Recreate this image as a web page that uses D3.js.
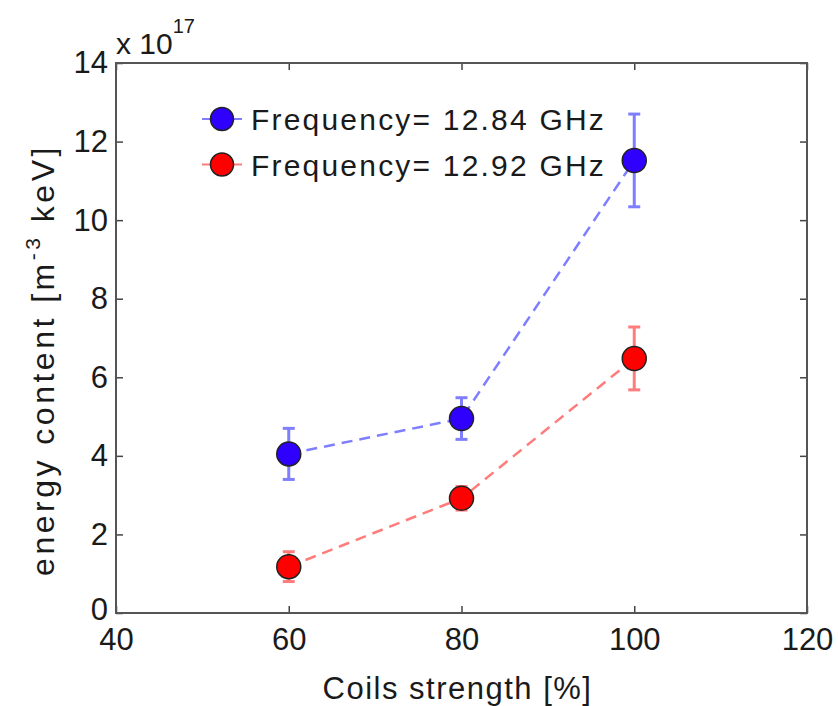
<!DOCTYPE html>
<html lang="en">
<head>
<meta charset="utf-8">
<title>Energy content vs coils strength</title>
<script src="https://d3js.org/d3.v7.min.js"></script>
<style>
  body { margin: 0; background: #fff; }
  svg text { font-family: "Liberation Sans", Arial, Helvetica, sans-serif; fill: #1a1a1a; }
</style>
</head>
<body>
<script>
// data (values in units of 1e17)
const coils = [60, 80, 100];
const seriesNames = ["Frequency= 12.84 GHz", "Frequency= 12.92 GHz"];
const blueValues = [4.05, 4.95, 11.52];
const blueErrors = [0.65, 0.53, 1.18];
const redValues = [1.18, 2.92, 6.48];
const redErrors = [0.38, 0.3, 0.8];
const xTicks = [40, 60, 80, 100, 120];
const yTicks = [0, 2, 4, 6, 8, 10, 12, 14];

const W = 838, H = 706;
const margin = {top: 63, right: 31, bottom: 93, left: 116},
      width = W - margin.left - margin.right,
      height = H - margin.top - margin.bottom;

const svg = d3.select("body").append("svg")
    .attr("width", W).attr("height", H);
const g = svg.append("g")
    .attr("transform", "translate(" + margin.left + "," + margin.top + ")");

const x = d3.scaleLinear().domain([40, 120]).range([0, width]);
const y = d3.scaleLinear().domain([0, 14]).range([height, 0]);

// axes with inward ticks on all four sides
const tickStyle = sel => {
  sel.select(".domain").remove();
  sel.selectAll(".tick line").attr("stroke", "#444").attr("stroke-width", 1.5);
  sel.selectAll(".tick text").style("font-size", "31px").attr("fill", "#1a1a1a");
};
g.append("g").attr("transform", "translate(0," + height + ")")
  .call(d3.axisBottom(x).tickValues(xTicks).tickSizeInner(-7).tickSizeOuter(0).tickPadding(12))
  .call(tickStyle)
  .selectAll(".tick text").attr("dy", "0.8em");
g.append("g")
  .call(d3.axisTop(x).tickValues(xTicks).tickSizeInner(-7).tickSizeOuter(0).tickFormat(""))
  .call(tickStyle);
g.append("g")
  .call(d3.axisLeft(y).tickValues(yTicks).tickSizeInner(-7).tickSizeOuter(0).tickPadding(8))
  .call(tickStyle)
  .selectAll(".tick text").attr("dy", d => d === 0 ? "0.2em" : "0.32em");
g.append("g").attr("transform", "translate(" + width + ",0)")
  .call(d3.axisRight(y).tickValues(yTicks).tickSizeInner(-7).tickSizeOuter(0).tickFormat(""))
  .call(tickStyle);

// frame
g.append("rect")
  .attr("width", width).attr("height", height)
  .attr("fill", "none").attr("stroke", "#555").attr("stroke-width", 2);

// exponent label
const expo = g.append("text").attr("x", 0).attr("y", -9).style("font-size", "30px");
expo.append("tspan").text("x 10");
expo.append("tspan").attr("dy", -21).style("font-size", "20px").text("17");

// axis labels
g.append("text")
  .attr("x", width / 2 - 4).attr("y", height + 86)
  .attr("text-anchor", "middle").style("font-size", "31px").style("letter-spacing", "1.5px")
  .text("Coils strength [%]");

const yl = g.append("text")
  .attr("transform", "translate(-62," + (height / 2 + 22) + ") rotate(-90)")
  .attr("text-anchor", "middle").style("font-size", "32px").style("letter-spacing", "3.5px");
yl.append("tspan").text("energy content [m");
yl.append("tspan").attr("dy", -14).style("font-size", "21px").text("-3");
yl.append("tspan").attr("dy", 14).text(" keV]");

const series = [
  {name: seriesNames[0], values: blueValues, errors: blueErrors, fill: "#3000ff", light: "#7e7eff"},
  {name: seriesNames[1], values: redValues, errors: redErrors, fill: "#ff0000", light: "#ff7c7c"}
];

const line = d3.line().x(d => x(d[0])).y(d => y(d[1]));

series.forEach(s => {
  const pts = coils.map((c, i) => [c, s.values[i], s.errors[i]]);

  g.append("path")
    .datum(pts)
    .attr("d", line)
    .attr("fill", "none")
    .attr("stroke", s.light)
    .attr("stroke-width", 2.5)
    .attr("stroke-dasharray", "11,7");

  const eb = g.append("g").selectAll("g").data(pts).enter().append("g")
    .attr("stroke", s.light).attr("stroke-width", 3);
  eb.append("line")
    .attr("x1", d => x(d[0])).attr("x2", d => x(d[0]))
    .attr("y1", d => y(d[1] + d[2])).attr("y2", d => y(d[1] - d[2]));
  eb.append("line")
    .attr("x1", d => x(d[0]) - 6).attr("x2", d => x(d[0]) + 6)
    .attr("y1", d => y(d[1] + d[2])).attr("y2", d => y(d[1] + d[2]));
  eb.append("line")
    .attr("x1", d => x(d[0]) - 6).attr("x2", d => x(d[0]) + 6)
    .attr("y1", d => y(d[1] - d[2])).attr("y2", d => y(d[1] - d[2]));

  g.append("g").selectAll("circle").data(pts).enter().append("circle")
    .attr("cx", d => x(d[0])).attr("cy", d => y(d[1]))
    .attr("r", 12)
    .attr("fill", s.fill)
    .attr("stroke", "#222").attr("stroke-width", 1.5);
});

// legend
const legend = g.append("g").attr("transform", "translate(86,56)");
series.forEach((s, i) => {
  const row = legend.append("g").attr("transform", "translate(0," + (i * 45.5) + ")");
  row.append("line").attr("x1", 0).attr("x2", 40).attr("y1", 0).attr("y2", 0)
    .attr("stroke", s.light).attr("stroke-width", 2);
  row.append("circle").attr("cx", 20).attr("cy", 0).attr("r", 11.5)
    .attr("fill", s.fill).attr("stroke", "#222").attr("stroke-width", 1.5);
  row.append("text").attr("x", 49).attr("y", 11)
    .style("font-size", "30px").style("letter-spacing", "2.2px")
    .text(s.name);
});
</script>
</body>
</html>
